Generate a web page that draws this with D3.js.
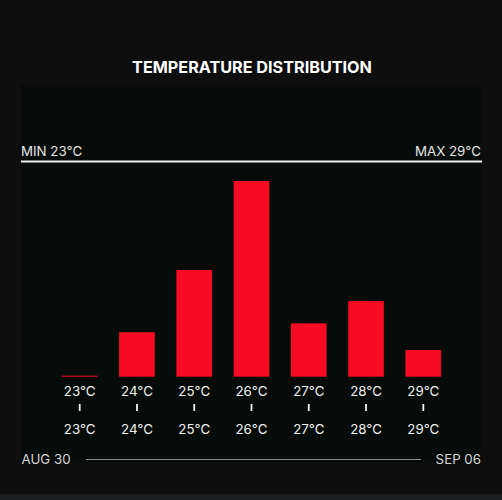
<!DOCTYPE html>
<html>
<head>
<meta charset="utf-8">
<script src="https://cdn.jsdelivr.net/npm/d3@7"></script>
<style>
  html, body { margin: 0; padding: 0; background: #0e0e0e; }
  svg { display: block; font-family: Inter, "Open Sans", sans-serif; }
</style>
</head>
<body>
<div id="chart"></div>
<script>
// data
var temps = ["23°C", "24°C", "25°C", "26°C", "27°C", "28°C", "29°C"];
var counts = [0, 10, 24, 44, 12, 17, 6];
var minLabel = "MIN 23°C";
var maxLabel = "MAX 29°C";
var startDate = "AUG 30";
var endDate = "SEP 06";
var title = "TEMPERATURE DISTRIBUTION";

var W = 502, H = 500;
var panel = { left: 22, right: 481, top: 85, bottom: 463 };
var base = 376.7, topY = 181;

var svg = d3.select("#chart").append("svg")
    .attr("width", W)
    .attr("height", H);

// background + bottom strip
svg.append("rect").attr("width", W).attr("height", H).attr("fill", "#0e0e0e");
svg.append("rect").attr("x", 0).attr("y", 494).attr("width", W).attr("height", 6).attr("fill", "#1d1e21");

// panel
svg.append("rect")
    .attr("x", panel.left - 1).attr("y", panel.top)
    .attr("width", panel.right - panel.left + 1).attr("height", panel.bottom - panel.top)
    .attr("fill", "#070b09");

svg.append("text")
    .attr("x", 252).attr("y", 72.5)
    .attr("text-anchor", "middle")
    .attr("fill", "#ffffff")
    .attr("font-size", 16.2)
    .attr("font-weight", 700)
    .text(title);

// scales
var x = d3.scaleBand().domain(temps).range([panel.left, panel.right])
    .paddingInner(0.377).paddingOuter(0.696);
var y = d3.scaleLinear().domain([0, d3.max(counts)]).range([base, topY]);

// min / max header
svg.append("text").attr("x", panel.left - 1).attr("y", 156)
    .attr("fill", "#e6e6e6").attr("font-size", 13.3).text(minLabel);
svg.append("text").attr("x", panel.right).attr("y", 156)
    .attr("text-anchor", "end")
    .attr("fill", "#e6e6e6").attr("font-size", 13.3).text(maxLabel);
svg.append("line")
    .attr("x1", panel.left - 1).attr("x2", panel.right + 1)
    .attr("y1", 161.5).attr("y2", 161.5)
    .attr("stroke", "#f2f2f2").attr("stroke-width", 2);

// bars
svg.selectAll(".bar").data(counts).enter().append("rect")
    .attr("class", "bar")
    .attr("x", (d, i) => x(temps[i]))
    .attr("width", x.bandwidth())
    .attr("y", d => Math.min(y(d), base - 1))
    .attr("height", d => Math.max(1, base - y(d)))
    .attr("fill", "#f60a24");

// labels under bars
var g = svg.selectAll(".lab").data(temps).enter().append("g")
    .attr("transform", d => "translate(" + (x(d) + x.bandwidth() / 2) + ",0)");
g.append("text").attr("y", 396).attr("text-anchor", "middle")
    .attr("fill", "#f2f2f2").attr("font-size", 13.3).text(d => d);
g.append("line").attr("y1", 404).attr("y2", 411)
    .attr("stroke", "#f2f2f2").attr("stroke-width", 1.8);
g.append("text").attr("y", 434).attr("text-anchor", "middle")
    .attr("fill", "#f2f2f2").attr("font-size", 13.3).text(d => d);

// date range
svg.append("text").attr("x", panel.left - 0.5).attr("y", 464)
    .attr("fill", "#d6d6d6").attr("font-size", 13.3).text(startDate);
svg.append("text").attr("x", panel.right).attr("y", 464)
    .attr("text-anchor", "end")
    .attr("fill", "#d6d6d6").attr("font-size", 13.3).text(endDate);
svg.append("line")
    .attr("x1", 86).attr("x2", 421)
    .attr("y1", 459.5).attr("y2", 459.5)
    .attr("stroke", "#8a8a8a").attr("stroke-width", 1);
</script>
</body>
</html>
